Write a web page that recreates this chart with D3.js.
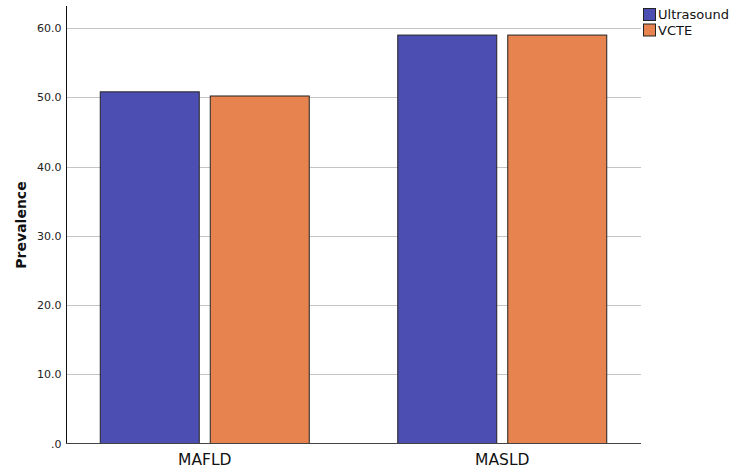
<!DOCTYPE html>
<html><head><meta charset="utf-8">
<script src="https://cdn.jsdelivr.net/npm/d3@7"></script>
<style>body{margin:0;background:#fff}svg{display:block}text{font-family:"DejaVu Sans",sans-serif}</style>
</head><body><svg id="c" width="733" height="474"></svg>
<script>
const categories = ["MAFLD", "MASLD"];
const seriesNames = ["Ultrasound", "VCTE"];
const ultrasound = [50.8, 59.0];
const vcte = [50.2, 59.0];
const yTicks = [0, 10, 20, 30, 40, 50, 60];
const colors = ["#4d4eb1", "#e6834f"];

const svg = d3.select("#c");
const y = d3.scaleLinear().domain([0, 63.2]).range([443.5, 6]);
const x = d3.scaleBand().domain(categories).range([56, 651]);
const xs = d3.scaleBand().domain(seriesNames).range([0, 209]).paddingInner(0.1);
const values = [ultrasound, vcte];

// gridlines
svg.append("g").selectAll("line").data(yTicks.filter(d => d > 0)).join("line")
  .attr("x1", 66.5).attr("x2", 641).attr("y1", d => Math.round(y(d)) + 0.5).attr("y2", d => Math.round(y(d)) + 0.5)
  .attr("stroke", "#c4c4c4").attr("stroke-width", 1);

// bars
const g = svg.append("g");
categories.forEach((c, i) => {
  const gx = x(c) + x.bandwidth() / 2 - 104.5;
  seriesNames.forEach((s, j) => {
    g.append("rect")
      .attr("x", gx + xs(s)).attr("width", xs.bandwidth())
      .attr("y", y(values[j][i])).attr("height", y(0) - y(values[j][i]))
      .attr("fill", colors[j]).attr("stroke", "#222").attr("stroke-width", 1);
  });
});

// y axis
const ya = svg.append("g").attr("transform", "translate(66.5,0)")
  .call(d3.axisLeft(y).tickValues(yTicks).tickSize(0).tickPadding(5)
    .tickFormat(d => d === 0 ? ".0" : d3.format(".1f")(d)));
ya.select(".domain").remove();
ya.selectAll("text").attr("font-size", 11).attr("fill", "#222").attr("font-family", "DejaVu Sans");
svg.append("line").attr("x1", 66.5).attr("x2", 66.5).attr("y1", 6).attr("y2", 444).attr("stroke", "#111");

// x axis
const xa = svg.append("g").attr("transform", "translate(0,443.5)")
  .call(d3.axisBottom(x).tickSize(0).tickPadding(10));
xa.select(".domain").remove();
xa.selectAll("text").attr("font-size", 15.5).attr("fill", "#111").attr("font-family", "DejaVu Sans").attr("dy", "0.71em");
svg.append("line").attr("x1", 66).attr("x2", 641).attr("y1", 443.5).attr("y2", 443.5).attr("stroke", "#444");

// y label
svg.append("text").attr("transform", "translate(20.5,225) rotate(-90)")
  .attr("text-anchor", "middle").attr("dominant-baseline", "central")
  .attr("font-size", 14).attr("font-weight", "bold").attr("fill", "#111").text("Prevalence");

// legend
const lg = svg.append("g");
seriesNames.forEach((s, j) => {
  lg.append("rect").attr("x", 643.5).attr("y", 8.5 + j * 15.5).attr("width", 12).attr("height", 12)
    .attr("fill", colors[j]).attr("stroke", "#222");
  lg.append("text").attr("x", 658).attr("y", 14.5 + j * 15.5).attr("dominant-baseline", "central")
    .attr("font-size", 13).attr("fill", "#111").text(s);
});
</script></body></html>
